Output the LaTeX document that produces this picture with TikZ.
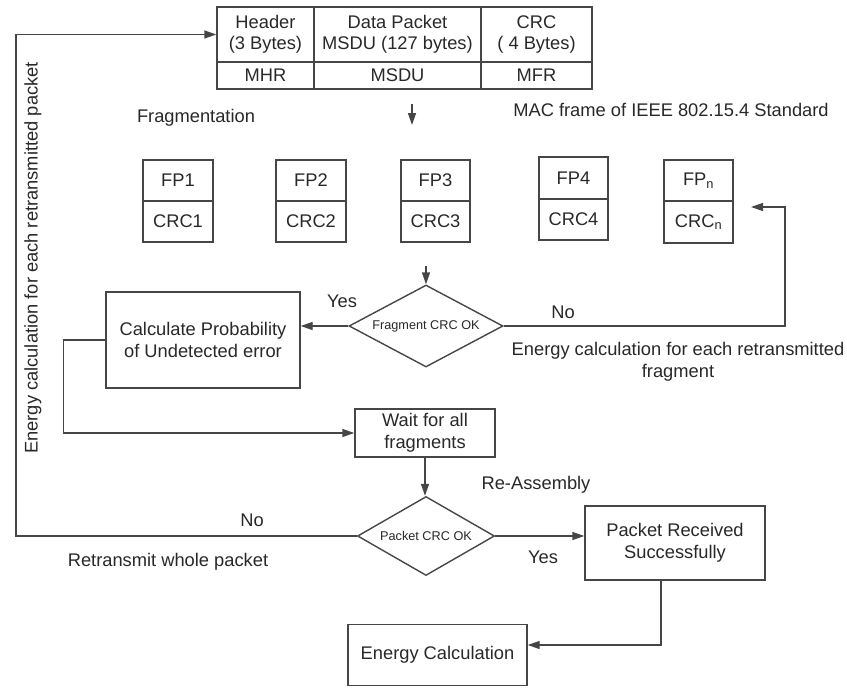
\documentclass[tikz,border=0pt]{standalone}
\usepackage{fontspec}
\setmainfont{Liberation Sans}
\usetikzlibrary{arrows.meta,shapes.geometric}
\definecolor{linec}{RGB}{70,70,70}
\definecolor{textc}{RGB}{40,40,40}
\begin{document}
\begin{tikzpicture}[x=1pt,y=-1pt,
  every node/.style={text=textc, font=\fontsize{18.3}{21.5}\selectfont, align=center},
  cell/.style={draw=linec, line width=1.4pt, inner sep=0pt},
  flowbox/.style={draw=linec, line width=1.4pt, inner sep=0pt},
  decision/.style={draw=linec, line width=1.4pt, diamond, inner sep=0pt,
    font=\fontsize{12.7}{14}\selectfont},
  lbl/.style={inner sep=0pt},
  link/.style={draw=linec, line width=1.4pt},
  arr/.style={link, -{Triangle[length=12pt,width=8pt]}}
]
\useasboundingbox (0,0) rectangle (847,688);

% MAC frame table
\node[cell, minimum width=97pt,  minimum height=55pt] (hdr)  at (265.5,34.5) {Header\\(3 Bytes)};
\node[cell, minimum width=167pt, minimum height=55pt] (data) at (397.5,34.5) {Data Packet\\MSDU (127 bytes)};
\node[cell, minimum width=111pt, minimum height=55pt] (crc)  at (536.5,34.5) {CRC\\( 4 Bytes)};
\node[cell, minimum width=97pt,  minimum height=27pt] (mhr)  at (265.5,75.5) {MHR};
\node[cell, minimum width=167pt, minimum height=27pt] (msdu) at (397.5,75.5) {MSDU};
\node[cell, minimum width=111pt, minimum height=27pt] (mfr)  at (536.5,75.5) {MFR};

\node[lbl] (fraglbl) at (196,118) {Fragmentation};
\node[lbl] (maclbl)  at (671,110) {MAC frame of IEEE 802.15.4 Standard};
\coordinate (fragA) at (412,104);
\coordinate (fragB) at (412,125);
\draw[arr] (fragA) -- (fragB);

% fragments
\node[cell, minimum width=70pt, minimum height=41pt] (fp1)  at (178,180.5) {FP1};
\node[cell, minimum width=70pt, minimum height=41pt] (crc1) at (178,221.5) {CRC1};
\node[cell, minimum width=70pt, minimum height=41pt] (fp2)  at (311,180.5) {FP2};
\node[cell, minimum width=70pt, minimum height=41pt] (crc2) at (311,221.5) {CRC2};
\node[cell, minimum width=69pt, minimum height=41pt] (fp3)  at (435.5,180.5) {FP3};
\node[cell, minimum width=69pt, minimum height=41pt] (crc3) at (435.5,221.5) {CRC3};
\node[cell, minimum width=69pt, minimum height=42pt] (fp4)  at (573.5,178) {FP4};
\node[cell, minimum width=69pt, minimum height=41pt] (crc4) at (573.5,219.5) {CRC4};
\node[cell, minimum width=69pt, minimum height=41pt] (fpn)  at (698.5,180.5) {FP\textsubscript{n}};
\node[cell, minimum width=69pt, minimum height=42pt] (crcn) at (698.5,222) {CRC\textsubscript{n}};

% fragment check
\node[decision, minimum width=154pt, minimum height=82pt, shape aspect=1.88] (fcrc) at (426,326) {Fragment CRC OK};
\coordinate (fp3out) at (426,266);
\draw[arr] (fp3out) -- (fcrc.north);

\node[flowbox, minimum width=194pt, minimum height=96pt] (calc) at (203,340)
  {Calculate Probability\\of Undetected error};
\draw[arr] (fcrc.west) -- (fcrc.west -| calc.east);
\node[lbl] (yes1) at (342,301) {Yes};

\coordinate (retrFrag) at (785,326);
\coordinate (fpnTip) at (751,207);
\draw[arr] (fcrc.east) -- (retrFrag) |- (fpnTip);
\node[lbl] (no1) at (563,312) {No};
\node[lbl] (fraglbl2) at (678,362) {Energy calculation for each retransmitted\\fragment};

% reassembly
\node[flowbox, minimum width=140pt, minimum height=48pt] (wait) at (425,433) {Wait for all\\fragments};
\draw[arr] (calc.west) -- ++(-42,0) |- (wait.west);

\node[decision, minimum width=137pt, minimum height=79pt, shape aspect=1.73] (pkt) at (426,536) {Packet CRC OK};
\draw[arr] (wait.south) -- (wait.south |- pkt.north);
\node[lbl] (reasm) at (536,485) {Re-Assembly};

\node[flowbox, minimum width=180pt, minimum height=74pt] (recv) at (675,543) {Packet Received\\Successfully};
\draw[arr] (pkt.east) -- (pkt.east -| recv.west);
\node[lbl] (yes2) at (543,557) {Yes};

\node[flowbox, minimum width=179pt, minimum height=61pt] (energy) at (437.5,655) {Energy Calculation};
\coordinate (eTurn) at (661,645);
\draw[arr] (recv.south -| eTurn) -- (eTurn) -- (eTurn -| energy.east);

% whole-packet retransmission loop
\coordinate (loopL) at (16,536);
\draw[arr] (pkt.west) -- (loopL) |- (hdr.west);
\node[lbl] (no2) at (252,520) {No};
\node[lbl] (retrlbl) at (168,562) {Retransmit whole packet};
\node[lbl, rotate=90] (pktlbl) at (33,258) {Energy calculation for each retransmitted packet};
\end{tikzpicture}
\end{document}
